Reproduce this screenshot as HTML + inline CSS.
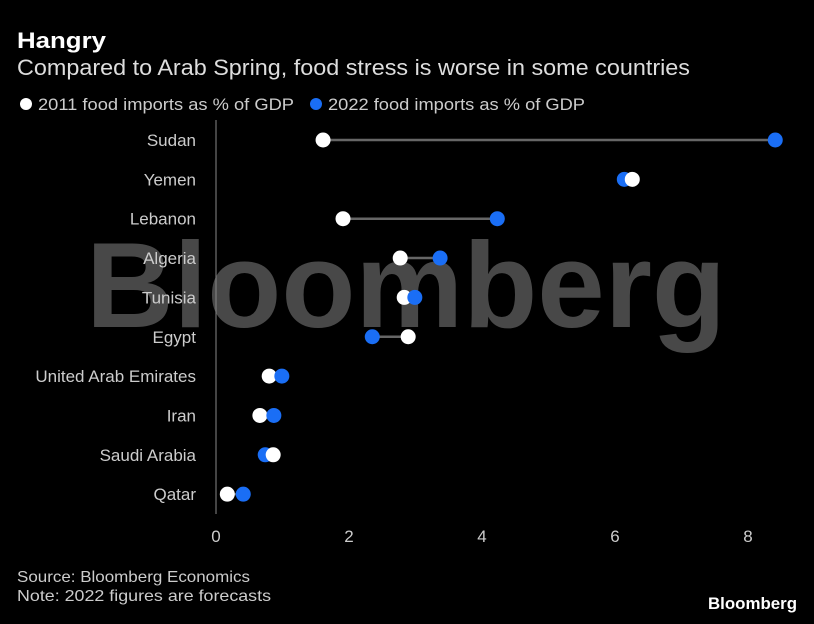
<!DOCTYPE html>
<html><head><meta charset="utf-8"><style>
body{margin:0;background:#000;width:814px;height:619px;overflow:hidden;font-family:"Liberation Sans",sans-serif;color:#fff}
svg text{font-family:"Liberation Sans",sans-serif}
</style></head><body>
<svg width="814" height="619">
<text x="17" y="48" font-size="22" font-weight="bold" fill="#fff" textLength="89" lengthAdjust="spacingAndGlyphs">Hangry</text>
<text x="17" y="75" font-size="22" fill="#ddd" textLength="673" lengthAdjust="spacingAndGlyphs">Compared to Arab Spring, food stress is worse in some countries</text>
<g>
<circle cx="26" cy="104" r="6" fill="#fff"/>
<text x="38" y="110" font-size="17" fill="#ccc" textLength="256" lengthAdjust="spacingAndGlyphs">2011 food imports as % of GDP</text>
<circle cx="316" cy="104" r="6" fill="#1a6ef5"/>
<text x="328" y="110" font-size="17" fill="#ccc" textLength="257" lengthAdjust="spacingAndGlyphs">2022 food imports as % of GDP</text>
</g>
<text x="406" y="327" font-size="122" font-weight="bold" fill="#555" fill-opacity="0.85" text-anchor="middle" textLength="640" lengthAdjust="spacingAndGlyphs">Bloomberg</text>
<line x1="216" y1="120" x2="216" y2="514" stroke="#888" stroke-width="1"/>
<g id="plot"></g>
<text x="17" y="582" font-size="16" fill="#ccc" textLength="233" lengthAdjust="spacingAndGlyphs">Source: Bloomberg Economics</text>
<text x="17" y="601" font-size="16" fill="#ccc" textLength="254" lengthAdjust="spacingAndGlyphs">Note: 2022 figures are forecasts</text>
<text x="797" y="609" font-size="17" font-weight="bold" fill="#fff" text-anchor="end" textLength="89" lengthAdjust="spacingAndGlyphs">Bloomberg</text>
</svg>
<script>
const countries=["Sudan","Yemen","Lebanon","Algeria","Tunisia","Egypt","United Arab Emirates","Iran","Saudi Arabia","Qatar"];
const v2011=[1.61,6.26,1.91,2.77,2.83,2.89,0.80,0.66,0.86,0.17];
const v2022=[8.41,6.14,4.23,3.37,2.99,2.35,0.99,0.87,0.74,0.41];
const ticks=[0,2,4,6,8];
const NS="http://www.w3.org/2000/svg";
const g=document.getElementById('plot');
const x=v=>216+v*66.5;
const y=i=>140+i*39.35;
function mk(t,a){const e=document.createElementNS(NS,t);for(const k in a)e.setAttribute(k,a[k]);g.appendChild(e);return e;}
ticks.forEach(t=>{
 const e=mk('text',{x:x(t),y:542,'font-size':17,fill:'#ccc','text-anchor':'middle'});e.textContent=t;
 
 
});
countries.forEach((c,i)=>{
 const l=mk('text',{x:196,y:y(i)+6,'font-size':17,fill:'#ccc','text-anchor':'end'});l.textContent=c;
 
 
 const ln=mk('line',{x1:x(v2011[i]),x2:x(v2022[i]),y1:y(i),y2:y(i),stroke:'#666','stroke-width':2.5});
 
 
 const first=v2022[i]<v2011[i];
 const draw=(v,col,nm)=>{const d=mk('circle',{cx:x(v),cy:y(i),r:7.5,fill:col});
  
  };
 if(first){draw(v2022[i],'#1a6ef5','dot-2022');draw(v2011[i],'#fff','dot-2011');}
 else{draw(v2011[i],'#fff','dot-2011');draw(v2022[i],'#1a6ef5','dot-2022');}
});
</script>
</body></html>
